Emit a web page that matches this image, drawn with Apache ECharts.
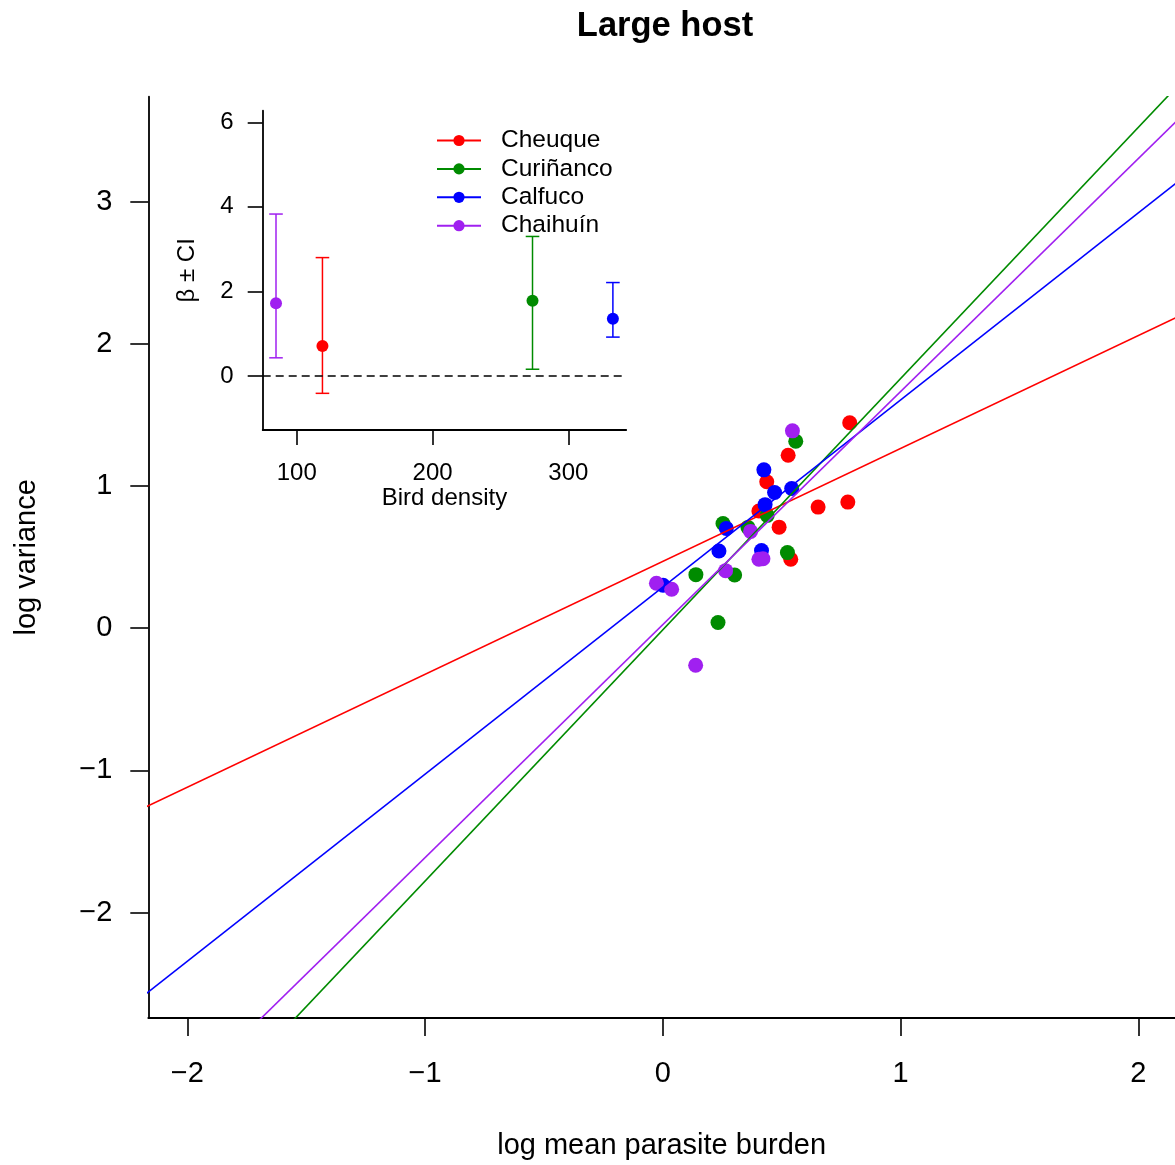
<!DOCTYPE html>
<html>
<head>
<meta charset="utf-8">
<title>Large host</title>
<script src="https://cdn.jsdelivr.net/npm/echarts@6/dist/echarts.min.js"></script>
<style>
  html, body { margin: 0; padding: 0; background: #fff; overflow: hidden; }
  #chart { width: 1175px; height: 1165px; }
</style>
</head>
<body>
<div id="chart"></div>
<script>
// Sites, in plotting order, with their colours
const sites = ['Cheuque', 'Curiñanco', 'Calfuco', 'Chaihuín'];
const siteColors = ['#FF0000', '#008B00', '#0000FF', '#A020F0'];

// log mean parasite burden (x) and log variance (y) per sample, by site
const cheuqueX   = [0.786, 0.527, 0.437, 0.404, 0.653, 0.778, 0.489, 0.538];
const cheuqueY   = [1.445, 1.217, 1.030, 0.824, 0.852, 0.887, 0.711, 0.485];
const curinancoX = [0.559, 0.253, 0.358, 0.439, 0.524, 0.139, 0.302, 0.232];
const curinancoY = [1.315, 0.737, 0.709, 0.794, 0.532, 0.377, 0.374, 0.040];
const calfucoX   = [0.425, 0.470, 0.542, 0.430, 0.267, 0.236, 0.415, 0.001];
const calfucoY   = [1.114, 0.955, 0.983, 0.869, 0.702, 0.543, 0.546, 0.302];
const chaihuinX  = [0.545, 0.369, 0.264, 0.404, 0.421, -0.027, 0.037, 0.138];
const chaihuinY  = [1.388, 0.681, 0.405, 0.485, 0.489, 0.316, 0.274, -0.260];

// Fitted regression lines (Taylor's power law): intercept and slope per site
const lineIntercepts = [0.470, -0.011, 0.290, 0.026];
const lineSlopes     = [0.794, 1.767, 1.316, 1.639];

// Inset: slope estimate with confidence interval against bird density
const birdDensity = [118.9, 273.6, 332.8, 84.7];
const betaEst     = [0.71, 1.78, 1.355, 1.72];
const betaLower   = [-0.41, 0.16, 0.92, 0.43];
const betaUpper   = [2.80, 3.30, 2.21, 3.83];

// Axis tick values
const mainXTicks  = [-2, -1, 0, 1, 2];
const mainYTicks  = [-2, -1, 0, 1, 2, 3];
const insetXTicks = [100, 200, 300];
const insetYTicks = [0, 2, 4, 6];

const FONT = '"Liberation Sans", Helvetica, Arial, sans-serif';
const minus = v => String(v).replace('-', '\u2212');

const pointsX = [cheuqueX, curinancoX, calfucoX, chaihuinX];
const pointsY = [cheuqueY, curinancoY, calfucoY, chaihuinY];

const series = [];

// Inset points (line series so the legend shows line + dot)
sites.forEach((s, i) => {
  series.push({
    name: s,
    type: 'line',
    xAxisIndex: 1, yAxisIndex: 1,
    data: [[birdDensity[i], betaEst[i]]],
    symbol: 'circle',
    symbolSize: 12,
    showSymbol: true,
    itemStyle: { color: siteColors[i] },
    lineStyle: { color: siteColors[i], width: 1.5 },
    z: 5,
    silent: true,
    animation: false
  });
});

// Inset error bars
series.push({
  type: 'custom',
  xAxisIndex: 1, yAxisIndex: 1,
  data: sites.map((s, i) => [birdDensity[i], betaLower[i], betaUpper[i], i]),
  renderItem: function (params, api) {
    const x = api.value(0);
    const lo = api.coord([x, api.value(1)]);
    const hi = api.coord([x, api.value(2)]);
    const col = siteColors[api.value(3)];
    const cap = 6.8;
    const st = { stroke: col, lineWidth: 1.5 };
    return {
      type: 'group',
      children: [
        { type: 'line', shape: { x1: lo[0], y1: lo[1], x2: hi[0], y2: hi[1] }, style: st },
        { type: 'line', shape: { x1: hi[0] - cap, y1: hi[1], x2: hi[0] + cap, y2: hi[1] }, style: st },
        { type: 'line', shape: { x1: lo[0] - cap, y1: lo[1], x2: lo[0] + cap, y2: lo[1] }, style: st }
      ]
    };
  },
  z: 4,
  silent: true,
  animation: false,
  markLine: {
    silent: true,
    symbol: ['none', 'none'],
    label: { show: false },
    lineStyle: { color: '#000', type: [8, 5], width: 1.5, opacity: 1 },
    data: [{ yAxis: 0 }],
    animation: false
  }
});

// Main scatter points
sites.forEach((s, i) => {
  series.push({
    type: 'scatter',
    xAxisIndex: 0, yAxisIndex: 0,
    data: pointsX[i].map((x, k) => [x, pointsY[i][k]]),
    symbol: 'circle',
    symbolSize: 15,
    itemStyle: { color: siteColors[i], opacity: 1 },
    z: 2 + i * 0.01,
    silent: true,
    animation: false
  });
});

// Main regression lines, clipped to the plotting region
sites.forEach((s, i) => {
  const xs = [-3, 3];
  series.push({
    type: 'line',
    xAxisIndex: 0, yAxisIndex: 0,
    data: xs.map(x => [x, lineIntercepts[i] + lineSlopes[i] * x]),
    showSymbol: false,
    symbol: 'none',
    clip: true,
    lineStyle: { color: siteColors[i], width: 1.6 },
    z: 3,
    silent: true,
    animation: false
  });
});

const axisLineStyle = { color: '#000', width: 1.8 };
const tickStyle = { color: '#000', width: 1.6 };

const option = {
  backgroundColor: '#fff',
  animation: false,
  title: {
    text: 'Large host',
    left: 660,
    textAlign: 'center',
    top: 4,
    textStyle: { fontFamily: FONT, fontSize: 34.5, fontWeight: 'bold', color: '#000' }
  },
  legend: {
    data: sites,
    orient: 'vertical',
    left: 436,
    top: 128,
    padding: 0,
    itemWidth: 44,
    itemHeight: 14,
    itemGap: 3.4,
    selectedMode: false,
    textStyle: { fontFamily: FONT, fontSize: 24.5, color: '#000', padding: [0, 0, 0, 15] }
  },
  grid: [
    { left: 148.3, top: 96.7, right: 0, bottom: 145.7, containLabel: false },
    { left: 262.7, top: 110.7, width: 363.5, height: 319.3, containLabel: false }
  ],
  xAxis: [
    {
      type: 'value', gridIndex: 0, min: -2.164, max: 2.154,
      name: 'log mean parasite burden', nameLocation: 'middle', nameGap: 113,
      nameTextStyle: { fontFamily: FONT, fontSize: 29, color: '#000' },
      axisLine: { show: true, onZero: false, lineStyle: axisLineStyle },
      axisTick: { show: true, inside: false, length: 18, lineStyle: tickStyle, customValues: mainXTicks },
      axisLabel: { margin: 41, fontFamily: FONT, fontSize: 29, color: '#000', customValues: mainXTicks, formatter: minus },
      splitLine: { show: false }
    },
    {
      type: 'value', gridIndex: 1, min: 74.9, max: 342.6,
      name: 'Bird density', nameLocation: 'middle', nameGap: 55,
      nameTextStyle: { fontFamily: FONT, fontSize: 24, color: '#000' },
      axisLine: { show: true, onZero: false, lineStyle: axisLineStyle },
      axisTick: { show: true, inside: false, length: 15, lineStyle: tickStyle, customValues: insetXTicks },
      axisLabel: { margin: 31, fontFamily: FONT, fontSize: 24, color: '#000', customValues: insetXTicks },
      splitLine: { show: false }
    }
  ],
  yAxis: [
    {
      type: 'value', gridIndex: 0, min: -2.741, max: 3.738,
      name: 'log variance', nameLocation: 'middle', nameGap: 107, nameRotate: 90,
      nameTextStyle: { fontFamily: FONT, fontSize: 29, color: '#000' },
      axisLine: { show: true, onZero: false, lineStyle: axisLineStyle },
      axisTick: { show: true, inside: false, length: 18, lineStyle: tickStyle, customValues: mainYTicks },
      axisLabel: { margin: 36, fontFamily: FONT, fontSize: 29, color: '#000', customValues: mainYTicks, formatter: minus },
      splitLine: { show: false }
    },
    {
      type: 'value', gridIndex: 1, min: -1.277, max: 6.274,
      name: 'β ± CI', nameLocation: 'middle', nameGap: 63, nameRotate: 90,
      nameTextStyle: { fontFamily: FONT, fontSize: 24, color: '#000' },
      axisLine: { show: true, onZero: false, lineStyle: axisLineStyle },
      axisTick: { show: true, inside: false, length: 15, lineStyle: tickStyle, customValues: insetYTicks },
      axisLabel: { margin: 29, fontFamily: FONT, fontSize: 24, color: '#000', customValues: insetYTicks },
      splitLine: { show: false }
    }
  ],
  series: series
};

const chart = echarts.init(document.getElementById('chart'), null, { renderer: 'canvas' });
chart.setOption(option);
</script>
</body>
</html>
